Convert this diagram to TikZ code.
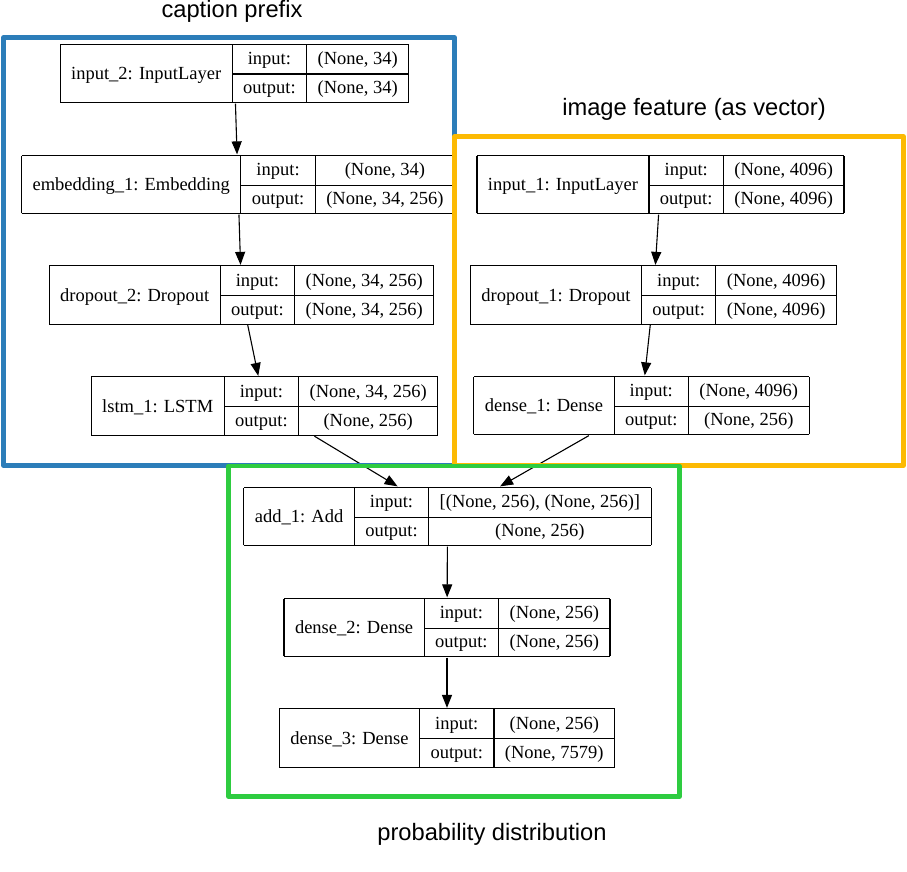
\documentclass[tikz,border=0pt]{standalone}
\usepackage{fontspec}
\setmainfont{Liberation Serif}
\newfontfamily\capfont{Liberation Sans}
\usetikzlibrary{arrows.meta}
\definecolor{frameblue}{RGB}{44,125,185}
\definecolor{frameorange}{RGB}{252,186,3}
\definecolor{framegreen}{RGB}{46,204,64}
\setlength{\tabcolsep}{11pt}
\setlength{\arrayrulewidth}{1.1pt}
\renewcommand{\arraystretch}{1.31}
\newcommand{\kerasnode}[3]{%
	\begin{tabular}{|c|c|c|}\hline
	\raisebox{-15pt}[0pt][0pt]{#1} & input: & #2\\ \cline{2-3}
	 & output: & #3\\ \hline
	\end{tabular}}
\tikzset{>={Triangle[length=13pt,width=10pt]}}
\tikzset{
	layer/.style={inner sep=0pt, font=\fontsize{18.5}{22}\selectfont},
	frame/.style={line width=4.6pt, line join=round},
	captext/.style={font=\capfont\fontsize{23.7}{28}\selectfont}
}
\begin{document}
\begin{tikzpicture}[x=1pt, y=-1pt]
		\useasboundingbox (0,0) rectangle (907,872);
		
		\node[layer] (input2)  at (234.5,73.5)  {\kerasnode{input\_2: InputLayer}{(None, 34)}{(None, 34)}};
		\node[layer] (embed1)  at (238,184.5)   {\kerasnode{embedding\_1: Embedding}{(None, 34)}{(None, 34, 256)}};
		\node[layer] (drop2)   at (241.5,295)   {\kerasnode{dropout\_2: Dropout}{(None, 34, 256)}{(None, 34, 256)}};
		\node[layer] (lstm1)   at (264.5,406)   {\kerasnode{lstm\_1: LSTM}{(None, 34, 256)}{(None, 256)}};
		
		\node[layer] (input1)  at (660.5,184.5) {\kerasnode{input\_1: InputLayer}{(None, 4096)}{(None, 4096)}};
		\node[layer] (drop1)   at (653.5,295)   {\kerasnode{dropout\_1: Dropout}{(None, 4096)}{(None, 4096)}};
		\node[layer] (dense1)  at (641.5,405.5) {\kerasnode{dense\_1: Dense}{(None, 4096)}{(None, 256)}};
		
		\node[layer] (add1)    at (447.5,516.5) {\kerasnode{add\_1: Add}{[(None, 256), (None, 256)]}{(None, 256)}};
		\node[layer] (dense2)  at (447,627.5)   {\kerasnode{dense\_2: Dense}{(None, 256)}{(None, 256)}};
		\node[layer] (dense3)  at (447,738)     {\kerasnode{dense\_3: Dense}{(None, 256)}{(None, 7579)}};
		
		\draw[->, line width=1.1pt] (input2) -- (embed1);
		\draw[->, line width=1.1pt] (embed1) -- (drop2);
		\draw[->, line width=1.1pt] (drop2) -- (lstm1);
		\draw[->, line width=1.1pt] (lstm1) -- (add1);
		\draw[->, line width=1.1pt] (input1) -- (drop1);
		\draw[->, line width=1.1pt] (drop1) -- (dense1);
		\draw[->, line width=1.1pt] (dense1) -- (add1);
		\draw[->, line width=1.1pt] (add1) -- (dense2);
		\draw[->, line width=1.1pt] (dense2) -- (dense3);
		
		\draw[frame, frameblue]   (3.5,37.5) rectangle (454.5,465.5);
		\draw[frame, frameorange] (454.5,136.5) rectangle (903.5,465.5);
		\draw[frame, framegreen]  (228.5,466) rectangle (679.5,796.5);
		
		\node[captext] (captionprefix) at (232,11.5)  {caption prefix};
		\node[captext] (imagefeature)  at (694,109)   {image feature (as vector)};
		\node[captext] (probdist)      at (492,834)   {probability distribution};
	\end{tikzpicture}
\end{document}
